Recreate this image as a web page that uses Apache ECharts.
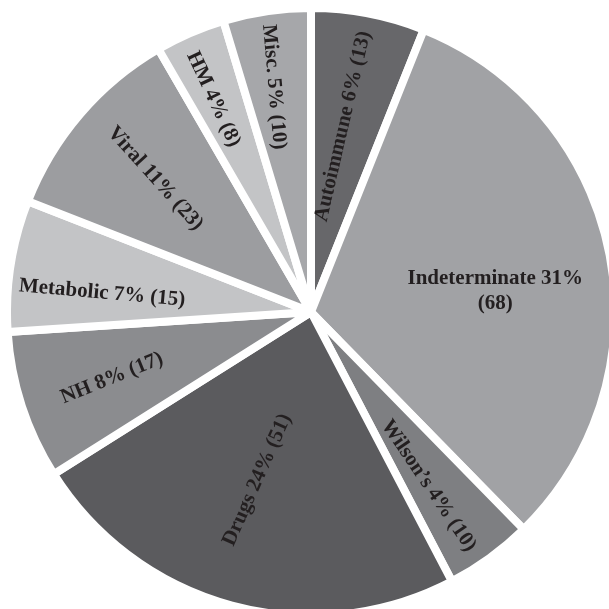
<!DOCTYPE html>
<html>
<head>
<meta charset="utf-8">
<script src="https://cdn.jsdelivr.net/npm/echarts@6/dist/echarts.min.js"></script>
<style>
html,body{margin:0;padding:0;background:#fff;}
#main{width:609px;height:609px;}
</style>
</head>
<body>
<div id="main"></div>
<script type="text/javascript">
// data (clockwise from 12 o'clock)
var names = ['Autoimmune', 'Indeterminate', 'Wilson\u2019s', 'Drugs', 'NH', 'Metabolic', 'Viral', 'HM', 'Misc.'];
var counts = [13, 68, 10, 51, 17, 15, 23, 8, 10];
var percents = [6, 31, 4, 24, 8, 7, 11, 4, 5];

// styling per slice
var colors = ['#67676a', '#a1a2a5', '#7e7f82', '#5b5b5e', '#8b8c8f', '#c3c4c6', '#9c9da0', '#c3c4c6', '#a6a7aa'];
var labelRotate = [77, 0, -56, 66, 22, -5, -48, -65, -85];
var labelRadius = [0.62, 0.61, 0.69, 0.58, 0.69, 0.69, 0.675, 0.77, 0.75];
var labelAngleShift = [-1.1, 4.8, 1.9, 2.7, -0.4, -3.6, 0, -1.2, -1.0];
var wrapLabel = [false, true, false, false, false, false, false, false, false];

var cx = 311, cy = 312, R = 304;

var total = 0;
for (var i = 0; i < counts.length; i++) total += counts[i];

var seriesData = [];
for (var i = 0; i < names.length; i++) {
	seriesData.push({
		name: names[i],
		value: counts[i],
		itemStyle: { color: colors[i] },
		label: { rotate: labelRotate[i] }
	});
}

// middle of a slice, radians clockwise from 12 o'clock
function midAngle(idx) {
	var sum = 0;
	for (var k = 0; k < idx; k++) sum += counts[k];
	return (sum + counts[idx] / 2) / total * 2 * Math.PI;
}

var myChart = echarts.init(document.getElementById('main'));
var option = {
	animation: false,
	backgroundColor: '#ffffff',
	series: [{
		type: 'pie',
		center: [cx, cy],
		radius: [0, R],
		startAngle: 90,
		clockwise: true,
		silent: true,
		itemStyle: {
			borderColor: '#ffffff',
			borderWidth: 8
		},
		label: {
			show: true,
			position: 'inside',
			fontFamily: '"Liberation Serif", "Times New Roman", serif',
			fontWeight: 'bold',
			fontSize: 21,
			lineHeight: 25,
			color: '#231f20',
			align: 'center',
			formatter: function (p) {
				var i = p.dataIndex;
				return names[i] + ' ' + percents[i] + '%' + (wrapLabel[i] ? '\n' : ' ') + '(' + counts[i] + ')';
			}
		},
		labelLine: { show: false },
		labelLayout: function (params) {
			var i = params.dataIndex;
			var a = midAngle(i) + labelAngleShift[i] * Math.PI / 180;
			var r = R * labelRadius[i];
			return {
				x: cx + r * Math.sin(a),
				y: cy - r * Math.cos(a),
				align: 'center',
				verticalAlign: 'middle'
			};
		},
		data: seriesData
	}]
};
myChart.setOption(option);
</script>
</body>
</html>
